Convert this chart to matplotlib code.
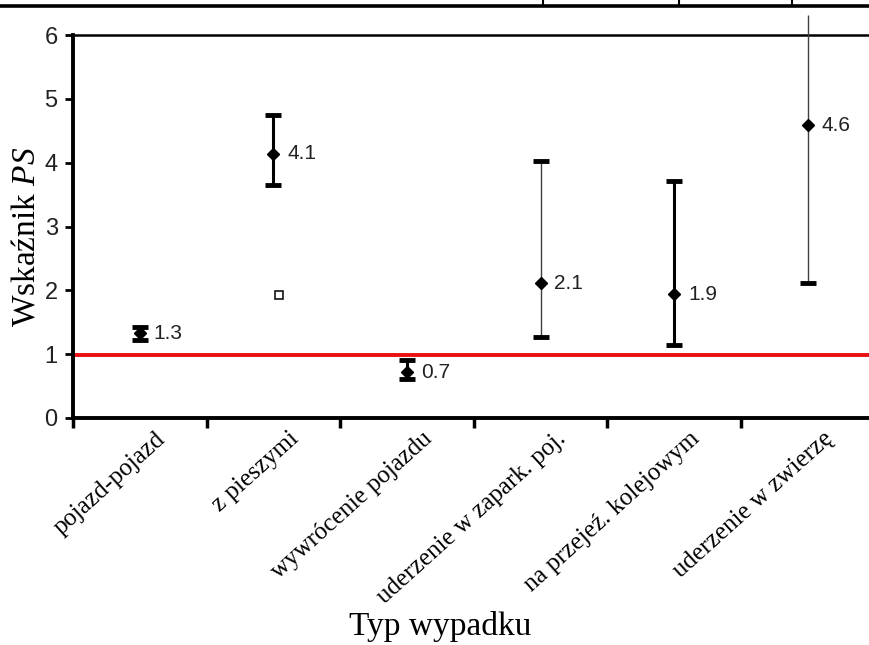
import numpy as np
import matplotlib
matplotlib.use('Agg')
import matplotlib.pyplot as plt
import matplotlib.transforms as mtransforms
from matplotlib.lines import Line2D

# data
categories = ['pojazd-pojazd', 'z pieszymi', 'wywrócenie pojazdu',
              'uderzenie w zapark. poj.', 'na przejeź. kolejowym', 'uderzenie w zwierzę']
ps_mean = [1.33, 4.14, 0.72, 2.11, 1.94, 4.59]
ps_low = [1.22, 3.65, 0.61, 1.27, 1.14, 2.12]
ps_high = [1.43, 4.75, 0.91, 4.03, 3.71, 6.32]
thick_bar = [True, True, True, False, True, False]
upper_cap = [True, True, True, True, True, False]
extra_point = (1, 1.93)   # open square next to "z pieszymi"
ref_level = 0.98

plt.rcParams['mathtext.fontset'] = 'custom'
plt.rcParams['mathtext.rm'] = 'Liberation Serif'
plt.rcParams['mathtext.it'] = 'Liberation Serif:italic'

fig = plt.figure(figsize=(8.69, 6.45), dpi=100)
ax = fig.add_axes([73/869, 227/645, 801.6/869, 383/645])

x = np.arange(len(categories)) + 0.5

ax.axhline(ref_level, color='#e81010', lw=2.8, zorder=1)

for i in range(len(categories)):
    lw = 2.2 if thick_bar[i] else 1.0
    col = 'black' if thick_bar[i] else '#404040'
    err = [[ps_mean[i] - ps_low[i]], [ps_high[i] - ps_mean[i]]]
    line, caps, bars = ax.errorbar(x[i], ps_mean[i], yerr=err, fmt='D', color='black',
                                   ms=6, ecolor=col, elinewidth=lw, capsize=5.5,
                                   capthick=3.5, clip_on=False, zorder=3)
    for c in caps:
        c.set_color('black')
        c.set_markeredgecolor('black')
        c.set_clip_on(False)
    for b in bars:
        b.set_clip_on(False)
    if not upper_cap[i]:
        caps[1].set_visible(False)
    ax.annotate(f'{ps_mean[i]:.1f}', (x[i], ps_mean[i]), xytext=(10, 0),
                textcoords='offset points', va='center', ha='left',
                fontsize=15, family='Liberation Sans', color='#222222')

ax.plot(x[extra_point[0]] + 0.045, extra_point[1], 's', ms=6, mfc='white',
        mec='black', mew=1.1, zorder=3)

ax.set_xlim(0, 6)
ax.set_ylim(0, 6)
ax.set_yticks(range(7))
ax.set_xticks(range(7))
ax.set_xticklabels([])
ax.set_xticks(x, minor=True)
ax.set_xticklabels(categories, minor=True, rotation=42, ha='right', va='top',
                   rotation_mode='anchor', fontsize=18, family='Liberation Serif')
ax.tick_params(axis='x', which='minor', length=0, pad=7)
ax.tick_params(axis='x', which='major', length=7, width=2.5, direction='out')
ax.tick_params(axis='y', length=6, width=2, direction='out', pad=5,
               labelsize=17)
for lab in ax.get_yticklabels():
    lab.set_family('Liberation Sans')
    lab.set_color('#222222')

offset = mtransforms.ScaledTranslation(15/100, 0, fig.dpi_scale_trans)
for lab in ax.xaxis.get_minorticklabels():
    lab.set_transform(lab.get_transform() + offset)

ax.spines['right'].set_visible(False)
ax.spines['left'].set_linewidth(2.8)
ax.spines['bottom'].set_linewidth(2.8)
ax.spines['top'].set_linewidth(1.8)

fig.text(26/869, 1 - 237/645, 'Wskaźnik $PS$', rotation=90, ha='center', va='center',
         fontsize=24, family='Liberation Serif')
fig.text(440/869, 3/645, 'Typ wypadku', ha='center', va='bottom',
         fontsize=24, family='Liberation Serif')

# table border cut into the top of the picture
fig.add_artist(Line2D([0, 1], [1 - 5.5/645, 1 - 5.5/645], lw=2.6, color='black'))
for xv in [543, 679, 792]:
    fig.add_artist(Line2D([xv/869, xv/869], [1, 1 - 5/645], lw=1.5, color='black'))

fig.savefig('out.png', dpi=100)
